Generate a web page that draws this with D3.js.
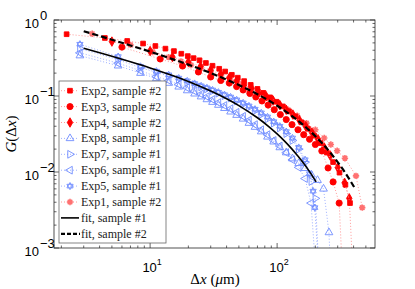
<!DOCTYPE html>
<html lang="en">
<head>
<meta charset="utf-8">
<title>G(Δx)</title>
<script src="https://d3js.org/d3.v7.min.js"></script>
<style>
  body { margin: 0; background: #fff; }
  .tick-label { font-family: "Liberation Sans", Arial, sans-serif; font-size: 13px; fill: #000; }
  .legend-text { font-family: "Liberation Serif", serif; font-size: 12px; fill: #222; }
  .axis-title { font-family: "Liberation Serif", serif; font-size: 15px; fill: #000; }
</style>
</head>
<body>
<svg id="chart"></svg>
<script>
// ---- data ----
const exp2X = [2.2, 4.4, 6.6, 8.8, 11, 13.2, 15.4, 17.6, 19.8, 22, 24.5, 27.5, 31, 35, 39, 44, 49, 55, 62, 70, 78, 88, 99, 111, 124, 139, 156, 175, 196, 220, 246, 276, 310, 345, 375];
const exp2G = [0.65, 0.58, 0.53, 0.49, 0.455, 0.42, 0.39, 0.36, 0.335, 0.315, 0.295, 0.272, 0.25, 0.228, 0.21, 0.19, 0.174, 0.157, 0.14, 0.124, 0.11, 0.096, 0.084, 0.073, 0.063, 0.054, 0.045, 0.037, 0.03, 0.024, 0.018, 0.0135, 0.0098, 0.0068, 0.0039];

const exp3X = [6, 12, 18, 24, 30, 36, 42, 48, 54, 61, 68, 76, 85, 95, 106, 118, 131, 146, 162, 180, 200, 225, 252, 276, 308, 335];
const exp3G = [0.44, 0.307, 0.248, 0.207, 0.178, 0.16, 0.148, 0.133, 0.12, 0.108, 0.097, 0.086, 0.076, 0.066, 0.057, 0.049, 0.042, 0.036, 0.031, 0.027, 0.023, 0.0189, 0.0113, 0.0074, 0.0039, 0.0002];

const exp4X = [5, 10, 15, 20, 25, 30, 36, 42, 48, 55, 63, 72, 82, 93, 105, 118, 133, 150, 168, 188, 210, 235, 262, 300, 340, 370, 405];
const exp4G = [0.52, 0.39, 0.325, 0.28, 0.245, 0.218, 0.193, 0.173, 0.158, 0.14, 0.126, 0.112, 0.099, 0.087, 0.076, 0.066, 0.057, 0.048, 0.04, 0.033, 0.027, 0.021, 0.0165, 0.0115, 0.0072, 0.0045, 0.0002];

const exp1X = [3.5, 7, 10.5, 14, 17.5, 21, 25, 30, 36, 43, 51, 61, 73, 87, 103, 122, 144, 170, 200, 235, 265, 297, 342, 418, 468];
const exp1G = [0.66, 0.47, 0.38, 0.325, 0.285, 0.256, 0.232, 0.207, 0.183, 0.162, 0.144, 0.125, 0.108, 0.092, 0.079, 0.066, 0.055, 0.044, 0.036, 0.028, 0.023, 0.019, 0.0152, 0.0089, 0.0034];

const exp8X = [2.8, 5.6, 8.4, 11.2, 14, 16.8, 19.6, 22.4, 25.2, 28, 31, 34.5, 38.5, 43, 48, 54, 60, 67, 75, 84, 94, 105, 118, 132, 148, 166, 186, 208, 232, 256, 270];
const exp8G = [0.34, 0.25, 0.2, 0.17, 0.148, 0.132, 0.118, 0.107, 0.098, 0.09, 0.083, 0.076, 0.069, 0.062, 0.056, 0.05, 0.044, 0.039, 0.034, 0.029, 0.025, 0.021, 0.018, 0.015, 0.013, 0.0112, 0.0092, 0.0078, 0.006, 0.0016, 0.0002];

const exp7X = [2.8, 5.6, 8.4, 11.2, 14, 16.8, 19.6, 22.4, 25.2, 28, 31, 34.5, 38.5, 43, 48, 54, 60, 67, 75, 84, 94, 105, 118, 132, 148, 166, 186, 200, 215];
const exp7G = [0.42, 0.3, 0.235, 0.205, 0.182, 0.166, 0.152, 0.141, 0.132, 0.124, 0.117, 0.109, 0.101, 0.094, 0.086, 0.078, 0.071, 0.064, 0.057, 0.05, 0.044, 0.038, 0.032, 0.026, 0.02, 0.0135, 0.0075, 0.0045, 0.0004];

const exp6X = [2.8, 5.6, 8.4, 11.2, 14, 16.8, 19.6, 22.4, 25.2, 28, 31, 34.5, 38.5, 43, 48, 54, 60, 67, 75, 84, 94, 105, 118, 132, 148, 166, 185, 200];
const exp6G = [0.37, 0.27, 0.215, 0.18, 0.16, 0.142, 0.128, 0.116, 0.106, 0.098, 0.09, 0.082, 0.075, 0.068, 0.061, 0.054, 0.048, 0.042, 0.036, 0.031, 0.026, 0.022, 0.018, 0.0145, 0.0115, 0.0082, 0.0039, 0.0006];

const exp5X = [2.8, 5.6, 8.4, 11.2, 14, 16.8, 19.6, 22.4, 25.2, 28, 31, 34.5, 38.5, 43, 48, 54, 60, 67, 75, 84, 94, 105, 118, 132, 148, 166, 180, 192, 198, 217];
const exp5G = [0.48, 0.33, 0.245, 0.212, 0.19, 0.172, 0.158, 0.146, 0.136, 0.128, 0.12, 0.112, 0.104, 0.097, 0.089, 0.081, 0.074, 0.067, 0.06, 0.053, 0.046, 0.04, 0.034, 0.028, 0.021, 0.0145, 0.0095, 0.0056, 0.0034, 0.0003];

const fit1X = [3, 5, 7, 10, 15, 20, 30, 40, 50, 70, 85, 100, 115, 130, 145, 160, 180, 190, 203];
const fit1G = [0.426, 0.334, 0.2825, 0.2342, 0.1859, 0.1553, 0.1165, 0.0921, 0.0748, 0.0517, 0.0402, 0.0317, 0.0253, 0.0203, 0.01635, 0.0133, 0.0101, 0.0088, 0.0074];

const fit2X = [3, 5, 7, 10, 15, 20, 30, 50, 70, 100, 150, 200, 250, 300, 350, 404];
const fit2G = [0.712, 0.55, 0.4625, 0.3828, 0.3058, 0.2586, 0.2008, 0.1394, 0.1055, 0.0745, 0.0457, 0.0296, 0.0198, 0.0135, 0.00935, 0.00635];

const legendLabels = ["Exp2, sample #2", "Exp3, sample #2", "Exp4, sample #2", "Exp8, sample #1", "Exp7, sample #1", "Exp6, sample #1", "Exp5, sample #1", "Exp1, sample #2", "fit, sample #1", "fit, sample #2"];
const xMajorTicks = [10, 100];
const yMajorTicks = [1e-3, 1e-2, 1e-1, 1];

// ---- layout ----
const width = 415, height = 289;
const pLeft = 54, pRight = 375, pTop = 20, pBottom = 248;

const x = d3.scaleLog().domain([1.75, 590]).range([pLeft, pRight]);
const y = d3.scaleLog().domain([1e-3, 1]).range([pBottom, pTop]);

const red = "#ff0000", redLine = "#ff9a9a", pink = "#ff7070";
const blue = "#6f8cff", blueLine = "#9fb1ff";

const svg = d3.select("#chart").attr("width", width).attr("height", height);

svg.append("defs").append("clipPath").attr("id", "plotclip")
   .append("rect").attr("x", pLeft).attr("y", pTop).attr("width", pRight - pLeft).attr("height", pBottom - pTop);

// marker shapes
function hexagram(r) {
  let p = "";
  for (let t = 0; t < 2; t++) {
    for (let i = 0; i < 3; i++) {
      const a = (t * 60 + i * 120 - 90) * Math.PI / 180;
      p += (i === 0 ? "M" : "L") + (r * Math.cos(a)).toFixed(2) + "," + (r * Math.sin(a)).toFixed(2);
    }
    p += "Z";
  }
  return p;
}
function asterisk(r) {
  let p = "";
  for (let i = 0; i < 4; i++) {
    const a = i * Math.PI / 4;
    p += "M" + (r * Math.cos(a)).toFixed(2) + "," + (r * Math.sin(a)).toFixed(2) +
         "L" + (-r * Math.cos(a)).toFixed(2) + "," + (-r * Math.sin(a)).toFixed(2);
  }
  return p;
}
const tri = d3.symbol(d3.symbolTriangle, 26)();

const series = [
  {xs: exp8X, gs: exp8G, line: blueLine, path: tri, rot: 0, fill: "none", stroke: blue},
  {xs: exp7X, gs: exp7G, line: blueLine, path: tri, rot: 90, fill: "none", stroke: blue},
  {xs: exp6X, gs: exp6G, line: blueLine, path: tri, rot: -90, fill: "none", stroke: blue},
  {xs: exp5X, gs: exp5G, line: blueLine, path: hexagram(3.6), rot: 0, fill: "none", stroke: blue},
  {xs: exp1X, gs: exp1G, line: redLine, path: asterisk(3.2), rot: 0, fill: "none", stroke: pink, sw: 1.6},
  {xs: exp3X, gs: exp3G, line: redLine, path: d3.symbol(d3.symbolCircle, 30)(), rot: 0, fill: red, stroke: red},
  {xs: exp4X, gs: exp4G, line: redLine, path: d3.symbol(d3.symbolDiamond, 26)(), rot: 0, fill: red, stroke: red},
  {xs: exp2X, gs: exp2G, line: redLine, path: d3.symbol(d3.symbolSquare, 22)(), rot: 0, fill: red, stroke: red}
];

const plot = svg.append("g").attr("clip-path", "url(#plotclip)");
const line = d3.line().x(d => x(d[0])).y(d => y(d[1]));

series.forEach(s => {
  const pts = s.xs.map((v, i) => [v, s.gs[i]]);
  plot.append("path").datum(pts).attr("d", line)
      .attr("fill", "none").attr("stroke", s.line).attr("stroke-width", 1)
      .attr("stroke-dasharray", "1,2");
  plot.selectAll(null).data(pts).enter().append("path")
      .attr("d", s.path)
      .attr("transform", d => `translate(${x(d[0])},${y(d[1])}) rotate(${s.rot})`)
      .attr("fill", s.fill).attr("stroke", s.stroke).attr("stroke-width", s.sw || 0.9);
});

const smooth = d3.line().curve(d3.curveCatmullRom).x(d => x(d[0])).y(d => y(d[1]));
plot.append("path").datum(fit1X.map((v, i) => [v, fit1G[i]])).attr("d", smooth)
    .attr("fill", "none").attr("stroke", "#000").attr("stroke-width", 1.6);
plot.append("path").datum(fit2X.map((v, i) => [v, fit2G[i]])).attr("d", smooth)
    .attr("fill", "none").attr("stroke", "#000").attr("stroke-width", 2.2)
    .attr("stroke-dasharray", "6,3");

// ---- axes box and ticks ----
const axisColor = "#262626";
svg.append("rect").attr("x", pLeft).attr("y", pTop).attr("width", pRight - pLeft).attr("height", pBottom - pTop)
   .attr("fill", "none").attr("stroke", axisColor).attr("stroke-width", 0.8);

x.ticks().forEach(t => {
  const major = xMajorTicks.includes(t);
  const len = major ? 5 : 2.5;
  const px = x(t);
  svg.append("line").attr("x1", px).attr("x2", px).attr("y1", pBottom).attr("y2", pBottom - len).attr("stroke", axisColor).attr("stroke-width", 0.7);
  svg.append("line").attr("x1", px).attr("x2", px).attr("y1", pTop).attr("y2", pTop + len).attr("stroke", axisColor).attr("stroke-width", 0.7);
});
y.ticks().forEach(t => {
  const major = yMajorTicks.some(m => Math.abs(m - t) / m < 1e-6);
  const len = major ? 5 : 2.5;
  const py = y(t);
  svg.append("line").attr("x1", pLeft).attr("x2", pLeft + len).attr("y1", py).attr("y2", py).attr("stroke", axisColor).attr("stroke-width", 0.7);
  svg.append("line").attr("x1", pRight).attr("x2", pRight - len).attr("y1", py).attr("y2", py).attr("stroke", axisColor).attr("stroke-width", 0.7);
});

// tick labels
xMajorTicks.forEach(t => {
  const txt = svg.append("text").attr("class", "tick-label")
     .attr("x", x(t) + 2).attr("y", 272).attr("text-anchor", "middle");
  txt.append("tspan").text("10");
  txt.append("tspan").attr("dy", -7).attr("font-size", 9).text(Math.round(Math.log10(t)));
});
yMajorTicks.forEach(t => {
  const e = Math.round(Math.log10(t));
  svg.append("text").attr("class", "tick-label")
     .attr("x", 39).attr("y", y(t) + 8).attr("text-anchor", "end").text("10");
  svg.append("text").attr("class", "tick-label").attr("font-size", 9)
     .attr("x", 40).attr("y", y(t)).text(e === 0 ? "0" : "\u2212" + (-e));
});

// axis titles
const xl = svg.append("text").attr("class", "axis-title").attr("x", 215).attr("y", 284).attr("text-anchor", "middle");
xl.append("tspan").text("Δ");
xl.append("tspan").attr("font-style", "italic").text("x");
xl.append("tspan").text("  (");
xl.append("tspan").attr("font-style", "italic").text("μ");
xl.append("tspan").text("m)");

const yl = svg.append("text").attr("class", "axis-title").attr("text-anchor", "middle")
   .attr("font-size", 16.5)
   .attr("transform", "translate(16,134) rotate(-90)");
yl.append("tspan").attr("font-style", "italic").text("G");
yl.append("tspan").text("(Δ");
yl.append("tspan").attr("font-style", "italic").text("x");
yl.append("tspan").text(")");

// ---- legend ----
const lg = svg.append("g");
lg.append("rect").attr("x", 59).attr("y", 81).attr("width", 107).attr("height", 162)
  .attr("fill", "#fff").attr("stroke", "#666").attr("stroke-width", 0.8);

const legendStyle = [series[7], series[5], series[6], series[0], series[1], series[2], series[3], series[4]];
legendLabels.forEach((lab, i) => {
  const ly = 90.7 + i * 15.9;
  if (i < 8) {
    const s = legendStyle[i];
    lg.append("line").attr("x1", 61).attr("x2", 79).attr("y1", ly).attr("y2", ly)
      .attr("stroke", s.line).attr("stroke-width", 1).attr("stroke-dasharray", "1,2");
    lg.append("path").attr("d", s.path).attr("transform", `translate(70,${ly}) rotate(${s.rot})`)
      .attr("fill", s.fill).attr("stroke", s.stroke).attr("stroke-width", s.sw || 0.9);
  } else if (i === 8) {
    lg.append("line").attr("x1", 61).attr("x2", 79).attr("y1", ly).attr("y2", ly)
      .attr("stroke", "#000").attr("stroke-width", 1.6);
  } else {
    lg.append("line").attr("x1", 61).attr("x2", 80).attr("y1", ly).attr("y2", ly)
      .attr("stroke", "#000").attr("stroke-width", 2.2).attr("stroke-dasharray", "4,2");
  }
  lg.append("text").attr("class", "legend-text").attr("x", 81).attr("y", ly + 4).text(lab);
});
</script>
</body>
</html>
